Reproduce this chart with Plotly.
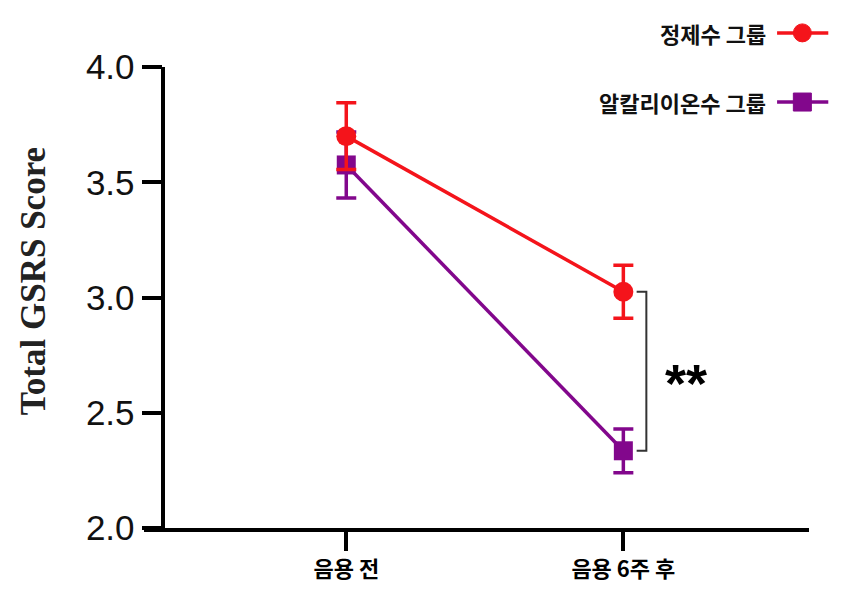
"""
GSRS score before and after 6 weeks of drinking: purified water vs alkaline ionized water.
"""
import plotly.graph_objects as go

# category labels on the x axis
timepoints = ["음용 전", "음용 6주 후"]

# series names
group_names = ["정제수 그룹", "알칼리이온수 그룹"]

# mean Total GSRS score and error (SE) per group
purified_mean = [3.70, 3.025]
purified_err = [0.145, 0.115]
alkaline_mean = [3.575, 2.335]
alkaline_err = [0.143, 0.095]

# axis ticks
y_ticks = [2.0, 2.5, 3.0, 3.5, 4.0]
y_ticktext = ["2.0", "2.5", "3.0", "3.5", "4.0"]

RED = "#F4141B"
PURPLE = "#82078C"
KR_FONT = "Noto Sans CJK KR"

fig = go.Figure()

# purple drawn first so the red series sits on top where they overlap
fig.add_trace(go.Scatter(
    x=timepoints, y=alkaline_mean, name=group_names[1],
    mode="lines+markers",
    line=dict(color=PURPLE, width=3.5),
    marker=dict(symbol="square", size=19, color=PURPLE),
    error_y=dict(type="data", array=alkaline_err, color=PURPLE, thickness=3.5, width=10),
))
fig.add_trace(go.Scatter(
    x=timepoints, y=purified_mean, name=group_names[0],
    mode="lines+markers",
    line=dict(color=RED, width=3.5),
    marker=dict(symbol="circle", size=20, color=RED),
    error_y=dict(type="data", array=purified_err, color=RED, thickness=3.5, width=10),
))

# significance bracket between the two groups at 6 weeks
bx = 1.083
fig.add_shape(type="path", xref="x", yref="y",
              path=f"M {bx - 0.035} {purified_mean[1]} L {bx} {purified_mean[1]} "
                   f"L {bx} {alkaline_mean[1]} L {bx - 0.035} {alkaline_mean[1]}",
              line=dict(color="#333333", width=2))
fig.add_annotation(x=1.225, y=(purified_mean[1] + alkaline_mean[1]) / 2, xref="x", yref="y",
                   text="<b>**</b>", showarrow=False, yshift=-12,
                   font=dict(family="Liberation Sans", size=54, color="black"))

# hand-made legend (text on the left, glyph on the right)
legend_rows = [(group_names[0], RED, "circle", 1.074), (group_names[1], PURPLE, "square", 0.924)]
for name, color, kind, ly in legend_rows:
    fig.add_annotation(x=0.938, y=ly, xref="paper", yref="paper",
                       xanchor="right", yanchor="middle",
                       text=f"<b>{name}</b>", showarrow=False,
                       font=dict(family=KR_FONT, size=22, color="#111111"))
    fig.add_shape(type="line", xref="paper", yref="paper",
                  x0=0.952, x1=1.029, y0=ly, y1=ly, line=dict(color=color, width=3.5))
    fig.add_shape(type="circle" if kind == "circle" else "rect",
                  xref="paper", yref="paper", xsizemode="pixel", ysizemode="pixel",
                  xanchor=0.99, yanchor=ly, x0=-9, x1=9, y0=-9, y1=9,
                  fillcolor=color, line=dict(color=color, width=1))

# y axis title in bold serif
fig.add_annotation(x=-0.167, y=0.535, xref="paper", yref="paper", textangle=-90,
                   xanchor="center", yanchor="middle",
                   text="<b>Total GSRS Score</b>", showarrow=False,
                   font=dict(family="Liberation Serif", size=35, color="#222222"))

# the page body adds an 8px offset, so margins are shifted to compensate
fig.update_layout(
    width=850, height=609,
    margin=dict(l=136, r=49, t=59, b=89),
    plot_bgcolor="white", paper_bgcolor="white",
    showlegend=False,
    xaxis=dict(
        type="category", range=[-0.73, 1.67], domain=[0, 1],
        showline=True, linecolor="black", linewidth=3.5,
        ticks="outside", ticklen=19, tickwidth=3.5, tickcolor="black",
        tickfont=dict(family=KR_FONT, size=22, color="black", weight="bold"),
        showgrid=False, zeroline=False,
    ),
    yaxis=dict(
        range=[2.0, 4.0], anchor="free", position=0.029,
        tickvals=y_ticks, ticktext=y_ticktext,
        showline=True, linecolor="black", linewidth=3.5,
        ticks="outside", ticklen=20, tickwidth=3.5, tickcolor="black",
        tickfont=dict(family="Liberation Sans", size=35, color="#111111"),
        showgrid=False, zeroline=False,
    ),
)

fig.write_html("out.html")
